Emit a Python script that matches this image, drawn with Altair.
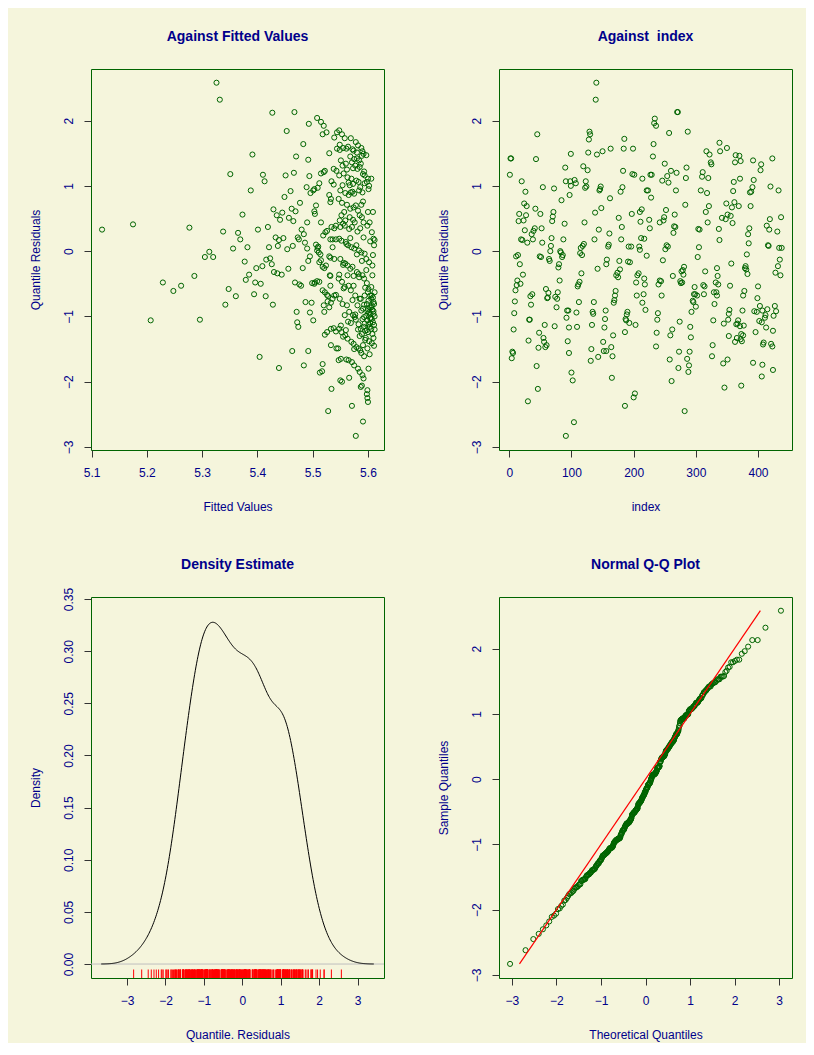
import altair as alt
import pandas as pd
import numpy as np

# ---------------- data ----------------
# (index, quantile residual) pairs of the "Against index" panel
index_pts = [
    (45,1.79),(2,1.42),(3,1.42),(43,1.41),(99,1.49),(1,1.17),(90,1.28),(20,1.07),(91,1.07),(98,1.07),
    (99,1.0),(26,0.91),(54,0.98),(72,0.96),(97,0.86),(84,0.78),(24,0.73),(28,0.69),(42,0.65),(50,0.57),
    (16,0.57),(27,0.55),(15,0.46),(23,0.47),(71,0.6),(70,0.53),(69,0.46),(89,0.42),(25,0.32),(41,0.35),
    (39,0.31),(36,0.26),(52,0.35),(19,0.18),(21,0.17),(38,0.18),(29,0.13),(53,0.13),(68,0.2),(87,0.18),
    (67,0.08),(66,0.0),(82,0.0),(86,-0.06),(85,-0.09),(83,-0.02),(11,-0.08),(14,-0.06),(17,-0.2),(49,-0.08),
    (51,-0.09),(64,-0.12),(65,-0.15),(80,-0.2),(79,-0.25),(22,-0.36),(81,-0.45),(13,-0.45),(18,-0.5),(12,-0.52),
    (10,-0.6),(59,-0.58),(63,-0.64),(61,-0.72),(62,-0.71),(74,-0.7),(77,-0.73),(78,-0.63),(37,-0.66),(34,-0.69),
    (35,-0.82),(76,-0.86),(9,-0.77),(8,-0.95),(93,-0.91),(95,-0.91),(92,-1.02),(32,-1.05),(33,-1.05),(57,-1.13),
    (73,-1.15),(96,-1.17),(7,-1.2),(48,-1.25),(55,-1.33),(56,-1.39),(58,-1.47),(60,-1.44),(31,-1.37),(94,-1.38),
    (47,-1.48),(5,-1.54),(6,-1.56),(4,-1.64),(96,-1.56),(44,-1.76),(100,-1.86),(102,-1.98),(46,-2.11),(30,-2.3),
    (104,-2.62),(91,-2.83),
    (140,2.58),(139,2.32),(129,1.83),(130,1.79),(128,1.71),(185,1.72),(127,1.51),(141,1.48),(150,1.53),(163,1.57),
    (184,1.57),(199,1.57),(119,1.3),(126,1.24),(183,1.23),(198,1.18),(201,1.17),(214,1.11),(105,1.09),(107,1.04),
    (123,1.07),(124,0.99),(122,0.97),(147,0.99),(146,0.95),(145,0.93),(182,0.98),(179,0.91),(162,0.81),(221,0.93),
    (148,0.66),(138,0.59),(121,0.44),(213,0.64),(210,0.6),(197,0.57),(176,0.51),(181,0.37),(211,0.45),(144,0.33),
    (161,0.27),(137,0.18),(180,0.18),(212,0.2),(217,0.19),(120,0.11),(118,0.08),(114,-0.03),(117,-0.06),(115,0.05),
    (159,0.07),(160,0.1),(192,0.07),(196,0.07),(209,0.07),(210,0.02),(221,-0.07),(157,-0.13),(156,-0.2),(142,-0.27),
    (191,-0.16),(194,-0.17),(177,-0.15),(178,-0.28),(174,-0.33),(175,-0.4),(172,-0.37),(208,-0.34),(206,-0.37),(204,-0.48),
    (116,-0.34),(113,-0.47),(111,-0.51),(110,-0.54),(217,-0.42),(218,-0.51),(171,-0.61),(170,-0.68),(169,-0.75),(168,-0.79),
    (205,-0.68),(216,-0.66),(214,-0.79),(219,-0.9),(112,-0.78),(108,-0.94),(109,-1.16),(136,-0.78),(134,-0.93),(135,-0.96),
    (133,-1.13),(155,-0.91),(154,-1.04),(153,-1.17),(190,-0.93),(189,-0.97),(187,-1.04),(188,-1.06),(203,-1.13),(193,-1.1),
    (186,-1.24),(167,-1.29),(151,-1.39),(156,-1.53),(164,-1.47),(166,-1.61),(132,-1.5),(131,-1.68),(143,-1.62),(152,-1.53),
    (165,-1.94),(202,-2.18),(200,-2.24),(186,-2.37),
    (270,2.13),(271,2.13),(234,2.03),(233,1.96),(236,1.92),(257,1.81),(287,1.83),(232,1.64),(231,1.45),(317,1.53),
    (322,1.48),(324,1.36),(325,1.33),(338,1.66),(339,1.53),(250,1.34),(285,1.28),(284,1.12),(227,1.17),(229,1.17),
    (260,1.23),(269,1.2),(254,1.15),(256,1.05),(246,1.08),(311,1.21),(310,1.14),(320,1.12),(223,0.93),(228,0.82),
    (268,0.93),(308,0.93),(318,0.89),(283,0.71),(321,0.69),(316,0.6),(319,0.44),(252,0.63),(249,0.52),(242,0.44),
    (248,0.47),(266,0.56),(225,0.48),(226,0.35),(265,0.38),(267,0.37),(264,0.28),(304,0.34),(306,0.33),(337,0.34),
    (338,0.17),(253,0.09),(255,0.07),(251,0.03),(305,0.06),(303,-0.09),(247,-0.14),(281,-0.24),(279,-0.29),(277,-0.31),
    (280,-0.36),(263,-0.38),(315,-0.31),(242,-0.45),(244,-0.46),(240,-0.51),(275,-0.46),(276,-0.49),(278,-0.48),(334,-0.26),
    (335,-0.38),(332,-0.48),(336,-0.51),(329,-0.63),(333,-0.63),(334,-0.68),(245,-0.68),(298,-0.55),(297,-0.66),(299,-0.66),
    (302,-0.68),(295,-0.76),(296,-0.78),(300,-0.85),(293,-0.93),(312,-0.52),(314,-0.54),(313,-0.66),(330,-0.81),(239,-0.95),
    (238,-1.05),(274,-1.08),(328,-1.06),(291,-1.16),(292,-1.32),(237,-1.25),(262,-1.2),(259,-1.29),(236,-1.46),(327,-1.44),
    (326,-1.61),(273,-1.54),(290,-1.54),(286,-1.65),(289,-1.75),(288,-1.85),(258,-1.66),(272,-1.79),(261,-1.99),(282,-2.45),
    (350,1.58),(364,1.47),(370,1.46),(363,1.36),(372,1.38),(392,1.39),(405,1.33),(404,1.24),(423,1.42),(361,1.06),
    (371,1.11),(360,0.92),(393,1.09),(389,0.91),(387,0.9),(391,0.98),(388,0.69),(420,0.99),(433,0.93),(349,0.73),
    (362,0.75),(369,0.69),(358,0.67),(342,0.51),(351,0.56),(348,0.49),(356,0.54),(359,0.43),(386,0.35),(384,0.26),
    (385,0.12),(419,0.49),(414,0.39),(418,0.33),(431,0.3),(437,0.52),(416,0.09),(417,0.08),(434,0.05),(438,0.05),
    (357,-0.19),(382,-0.05),(380,-0.23),(381,-0.28),(383,-0.35),(379,-0.26),(435,-0.13),(432,-0.23),(428,-0.33),(436,-0.37),
    (355,-0.53),(400,-0.54),(399,-0.72),(403,-0.84),(394,-0.92),(398,-0.93),(407,-0.91),(378,-0.61),(376,-0.68),(375,-0.91),
    (415,-0.89),(412,-0.98),(406,-1.09),(411,-1.02),(402,-1.07),(427,-0.84),(429,-0.92),(425,-0.99),(354,-0.9),(353,-0.96),
    (352,-1.05),(345,-1.11),(368,-1.06),(367,-1.11),(371,-1.15),(365,-1.12),(377,-1.14),(353,-1.3),(373,-1.27),(366,-1.33),
    (363,-1.39),(376,-1.29),(372,-1.35),(374,-1.38),(396,-1.24),(413,-1.17),(424,-1.22),(409,-1.4),(408,-1.43),(421,-1.42),
    (423,-1.46),(344,-1.72),(351,-1.66),(392,-1.71),(407,-1.74),(406,-1.92),(424,-1.82),(346,-2.09),(373,-2.06),
]

# (fitted value, quantile residual) pairs of the "Against Fitted Values" panel
fitted_pts = [
    (5.119,0.33),(5.175,0.41),(5.207,-1.06),(5.229,-0.48),(5.248,-0.61),(5.262,-0.53),(5.277,0.36),(5.286,-0.38),
    (5.296,-1.05),(5.305,-0.09),(5.313,-0.01),(5.32,-0.09),(5.326,2.58),(5.332,2.32),(5.338,0.3),(5.342,-0.82),
    (5.348,-0.58),(5.351,1.18),(5.356,0.04),(5.361,-0.69),(5.365,0.28),(5.369,0.18),(5.373,0.56),(5.377,-0.16),
    (5.379,-0.44),(5.382,0.06),(5.385,-0.36),(5.388,0.93),(5.391,1.48),(5.394,-0.66),(5.396,-0.48),(5.398,-0.26),
    (5.401,0.33),(5.404,-1.62),(5.406,-0.5),(5.409,-0.23),(5.41,1.17),(5.413,1.07),(5.415,-0.69),(5.416,-0.13),
    (5.419,0.37),(5.421,0.06),(5.423,-0.11),(5.426,-0.2),(5.427,2.12),(5.428,-0.82),(5.429,0.64),(5.43,-0.32),
    (5.433,0.21),(5.435,0.55),(5.436,-0.34),(5.437,0.08),(5.439,0.17),(5.439,-1.79),(5.441,0.48),(5.444,-0.36),
    (5.445,0.59),(5.447,0.2),(5.449,0.83),(5.451,1.16),(5.453,1.84),(5.454,0.03),(5.456,-0.27),(5.457,0.51),
    (5.46,0.92),(5.462,0.65),(5.463,-1.53),(5.464,0.08),(5.465,0.46),(5.466,1.2),(5.467,2.13),(5.469,0.61),
    (5.47,1.45),(5.471,-0.93),(5.472,-1.09),(5.474,-1.16),(5.475,0.18),(5.476,-0.51),(5.477,0.74),(5.48,0.33),
    (5.482,-0.26),(5.483,1.64),(5.484,-1.75),(5.486,0.13),(5.487,-0.78),(5.489,0.98),(5.49,0.44),(5.49,0.04),
    (5.492,1.4),(5.492,-1.53),(5.493,1.95),(5.494,1.15),(5.495,-0.94),(5.496,0.89),(5.498,-0.79),(5.499,-0.49),
    (5.468,-0.48),(5.479,-0.53),(5.473,0.21),(5.484,0.26),(5.492,-0.15),(5.495,-0.08),(5.501,-1.06),
    (5.508,2.04),(5.515,1.98),(5.52,1.92),(5.518,1.79),(5.525,1.82),(5.544,1.82),(5.539,1.74),(5.53,1.5),
    (5.544,1.57),(5.522,1.23),(5.515,1.19),(5.52,1.21),(5.538,1.26),(5.543,1.23),(5.534,1.07),(5.538,1.02),
    (5.512,1.04),(5.503,0.95),(5.509,0.97),(5.501,0.93),(5.53,0.86),(5.533,0.8),(5.532,0.75),(5.506,0.7),
    (5.503,0.61),(5.504,0.57),(5.515,0.44),(5.534,0.37),(5.539,0.35),(5.542,0.39),(5.523,0.29),(5.526,0.31),
    (5.519,0.24),(5.532,0.18),(5.536,0.18),(5.542,0.18),(5.506,0.1),(5.51,0.07),(5.509,0.05),(5.508,0.01),
    (5.511,-0.02),(5.514,-0.05),(5.53,-0.08),(5.532,-0.1),(5.536,0.06),(5.539,-0.12),(5.515,-0.14),(5.512,-0.17),
    (5.518,-0.24),(5.521,-0.26),(5.524,-0.22),(5.531,-0.37),(5.532,-0.38),(5.504,-0.48),(5.508,-0.46),(5.512,-0.47),
    (5.503,-0.5),(5.518,-0.6),(5.522,-0.63),(5.526,-0.67),(5.528,-0.69),(5.532,-0.53),(5.527,-0.77),(5.533,-0.79),
    (5.536,-0.73),(5.539,-0.68),(5.542,-0.67),(5.52,-0.83),(5.53,-0.86),(5.521,-0.93),(5.526,-1.24),(5.522,-1.28),
    (5.533,-1.19),(5.538,-1.18),(5.542,-1.23),(5.533,-1.44),(5.543,-1.49),(5.518,-1.73),(5.517,-1.84),(5.513,-1.86),
    (5.534,-2.11),(5.528,-2.45),
    (5.548,1.85),(5.553,1.79),(5.549,1.63),(5.555,1.58),(5.551,1.39),(5.554,1.31),(5.548,1.16),(5.556,1.19),
    (5.55,0.93),(5.547,0.8),(5.553,0.74),(5.549,0.47),(5.555,0.42),(5.548,0.19),(5.552,0.16),(5.55,-0.12),
    (5.556,-0.18),(5.547,-0.42),(5.553,-0.47),(5.549,-0.73),(5.554,-0.81),(5.548,-1.19),(5.552,-1.24),(5.551,-1.65),
    (5.55,-1.98),(5.553,-2.0),(5.549,1.55),(5.554,1.01),(5.552,0.55),(5.55,0.37),(5.555,-0.21),(5.548,-0.36),
    (5.556,-0.57),(5.551,-1.14),(5.555,-1.31),(5.547,-1.67),(5.546,-1.49),
    (5.558,1.73),(5.561,1.57),(5.564,1.6),(5.56,1.34),(5.563,1.13),(5.559,0.89),(5.565,0.86),(5.562,0.71),
    (5.558,0.39),(5.566,0.34),(5.56,0.14),(5.564,0.09),(5.561,0.11),(5.559,-0.19),(5.563,-0.22),(5.565,-0.53),
    (5.558,-0.55),(5.562,-0.83),(5.566,-0.93),(5.559,-1.29),(5.563,-1.34),(5.561,-1.66),(5.565,-1.67),(5.566,-1.94),
    (5.56,-1.21),(5.564,-1.08),(5.557,0.6),(5.562,1.25),(5.565,1.05),(5.559,0.47),(5.563,-0.37),(5.558,-0.98),
    (5.569,1.73),(5.572,1.56),(5.574,1.54),(5.568,1.45),(5.571,1.36),(5.575,1.41),(5.57,1.11),(5.573,1.03),
    (5.567,1.01),(5.572,0.91),(5.575,0.88),(5.569,0.9),(5.574,0.67),(5.568,0.65),(5.571,0.37),(5.576,0.44),
    (5.573,0.48),(5.57,0.06),(5.575,0.04),(5.568,-0.27),(5.572,-0.24),(5.574,-0.53),(5.569,-0.6),(5.573,-0.98),
    (5.576,-1.01),(5.57,-1.39),(5.574,-1.42),(5.571,-1.7),(5.575,-1.75),(5.571,-2.37),(5.567,0.52),(5.572,-0.75),
    (5.569,-1.1),(5.575,-1.5),(5.573,1.27),(5.568,0.2),(5.574,-0.38),
    (5.578,1.67),(5.582,1.62),(5.58,1.51),(5.584,1.39),(5.577,1.31),(5.585,1.29),(5.581,1.26),(5.579,1.08),
    (5.583,1.06),(5.586,0.98),(5.578,0.7),(5.582,0.62),(5.585,0.55),(5.579,0.09),(5.584,0.01),(5.58,-0.32),
    (5.583,-0.35),(5.577,-0.68),(5.585,-0.73),(5.581,-0.83),(5.579,-1.47),(5.583,-1.49),(5.586,-1.52),(5.582,-1.8),
    (5.585,-1.85),(5.578,-2.83),(5.58,-0.05),(5.584,-0.4),(5.578,-1.05),(5.582,-1.2),(5.585,-1.3),(5.581,0.3),
    (5.586,0.35),(5.58,1.42),(5.584,0.93),(5.577,-0.97),(5.583,-1.12),
    (5.588,1.58),(5.59,1.53),(5.592,1.49),(5.589,1.46),(5.587,1.34),(5.593,1.22),(5.591,1.18),(5.594,1.16),
    (5.589,0.52),(5.592,0.44),(5.588,-0.02),(5.594,-0.04),(5.59,-0.37),(5.593,-0.42),(5.591,-0.88),(5.587,-0.73),
    (5.594,-0.68),(5.59,-1.9),(5.592,-1.95),(5.589,-2.06),(5.587,-2.08),(5.591,-2.61),(5.588,-0.91),(5.593,-1.01),
    (5.59,-1.04),(5.594,-1.11),(5.592,-1.16),(5.589,-1.27),(5.595,-1.36),(5.591,-1.44),(5.588,-1.56),(5.593,-1.61),
    (5.59,0.9),(5.594,1.04),(5.588,0.71),(5.592,0.21),(5.589,-0.15),(5.595,-0.56),(5.591,0.76),(5.595,-1.22),
    (5.587,-1.19),(5.593,-0.82),
    (5.597,1.47),(5.6,1.11),(5.598,1.06),(5.601,0.95),(5.599,0.39),(5.603,0.44),(5.597,-0.12),(5.602,-0.17),
    (5.6,-0.63),(5.604,-0.68),(5.598,-2.19),(5.599,-2.13),(5.599,-2.25),(5.6,-2.31),(5.601,-0.76),(5.598,-0.81),
    (5.603,-0.86),(5.6,-0.89),(5.602,-0.94),(5.597,-0.99),(5.604,-1.03),(5.599,-1.06),(5.601,-1.12),(5.603,-1.16),
    (5.598,-1.21),(5.6,-1.24),(5.602,-1.38),(5.599,-1.49),(5.603,-1.58),(5.601,-0.58),(5.598,-0.49),(5.602,1.0),
    (5.6,0.6),(5.604,0.15),(5.597,-0.29),(5.601,-1.8),(5.596,-1.33),(5.603,-0.97),(5.599,-0.92),(5.604,-1.1),
    (5.609,0.6),(5.607,0.29),(5.61,0.19),(5.611,0.09),(5.608,-0.22),(5.606,-0.73),(5.61,-0.78),(5.612,-0.63),
    (5.607,-0.68),(5.609,-0.71),(5.611,-0.81),(5.606,-0.86),(5.608,-0.9),(5.61,-0.96),(5.612,-1.0),(5.607,-1.04),
    (5.609,-1.09),(5.611,-1.13),(5.606,-1.19),(5.608,-1.27),(5.61,-1.33),(5.607,-1.41),(5.611,-1.45),(5.606,1.11),
    (5.612,0.17),(5.609,-0.06),(5.608,-0.37),(5.606,-0.55),(5.61,-0.92),(5.605,-1.02),(5.612,-1.2),(5.607,-0.83),
]

panel_titles = ["Against Fitted Values", "Against \u00a0index", "Density Estimate", "Normal Q-Q Plot"]
res_ticks = [-3, -2, -1, 0, 1, 2]
fit_ticks = [5.1, 5.2, 5.3, 5.4, 5.5, 5.6]
idx_ticks = [0, 100, 200, 300, 400]
dens_ticks = [0.0, 0.05, 0.10, 0.15, 0.20, 0.25, 0.30, 0.35]
qx_ticks = [-3, -2, -1, 0, 1, 2, 3]

# ---------------- styling ----------------
BG = "#F5F5DC"      # beige
BLUE4 = "#00008B"
DG = "#006400"
FONT = "Liberation Sans"
W, H = 293, 381

fit_df = pd.DataFrame(fitted_pts, columns=["fitted", "res"])
idx_df = pd.DataFrame(index_pts, columns=["index", "res"])

res = idx_df["res"].to_numpy()
n = len(res)
q75, q25 = np.percentile(res, [75, 25])
bw = 0.9 * min(res.std(ddof=1), (q75 - q25) / 1.34) * n ** -0.2
lo, hi = float(res.min() - 3 * bw), float(res.max() + 3 * bw)


def xax(title, values, fmt=None):
    kw = dict(title=title, values=values, domain=False, grid=False, tickSize=7,
              tickColor="#333333", tickWidth=1, labelColor=BLUE4, labelFont=FONT,
              labelFontSize=12, labelPadding=10, labelFlush=False, labelOverlap=False,
              titleColor=BLUE4, titleFont=FONT, titleFontSize=12, titleFontWeight="normal",
              titleY=56, titleBaseline="middle")
    if fmt:
        kw["format"] = fmt
    return alt.Axis(**kw)


def yax(title, values, fmt=None):
    kw = dict(title=title, values=values, domain=False, grid=False, tickSize=7,
              tickColor="#333333", tickWidth=1, labelColor=BLUE4, labelFont=FONT,
              labelFontSize=12, labelPadding=9, labelAngle=270, labelAlign="center",
              labelBaseline="bottom", labelFlush=False, labelOverlap=False,
              titleColor=BLUE4, titleFont=FONT, titleFontSize=12, titleFontWeight="normal",
              titleX=-56, titleY=H / 2, titleAngle=270, titleBaseline="middle", titleAlign="center")
    if fmt:
        kw["format"] = fmt
    return alt.Axis(**kw)


def title_mark(text):
    return alt.Chart(pd.DataFrame({"t": [text]})).mark_text(
        font=FONT, fontSize=14, fontWeight="bold", color=BLUE4,
        align="center", baseline="middle",
    ).encode(text="t:N", x=alt.value(W / 2), y=alt.value(-32.5))


pt = dict(shape="circle", filled=False, size=26, strokeWidth=1, color=DG, opacity=1)

# panel 1: against fitted values
p1_pts = alt.Chart(fit_df).mark_point(**pt).encode(
    x=alt.X("fitted:Q", scale=alt.Scale(domain=[5.099, 5.629], nice=False, zero=False),
            axis=xax("Fitted Values", fit_ticks, ".1f")),
    y=alt.Y("res:Q", scale=alt.Scale(domain=[-3.046, 2.79], nice=False, zero=False),
            axis=yax("Quantile Residuals", res_ticks)),
)
p1 = alt.layer(p1_pts, title_mark(panel_titles[0])).properties(width=W, height=H)

# panel 2: against index
p2_pts = alt.Chart(idx_df).mark_point(**pt).encode(
    x=alt.X("index:Q", scale=alt.Scale(domain=[-16.5, 454.6], nice=False, zero=False),
            axis=xax("index", idx_ticks)),
    y=alt.Y("res:Q", scale=alt.Scale(domain=[-3.046, 2.79], nice=False, zero=False),
            axis=yax("Quantile Residuals", res_ticks)),
)
p2 = alt.layer(p2_pts, title_mark(panel_titles[1])).properties(width=W, height=H)

# panel 3: density estimate
dscale_x = alt.Scale(domain=[-3.94, 3.69], nice=False, zero=False)
dscale_y = alt.Scale(domain=[-0.0134, 0.352], nice=False, zero=False)
dx = alt.X("value:Q", scale=dscale_x, axis=xax("Quantile. Residuals", qx_ticks))
dy = alt.Y("density:Q", scale=dscale_y, axis=yax("Density", dens_ticks, ".2f"))

zero_line = alt.Chart(pd.DataFrame({"z": [0.0]})).mark_rule(color="#BEBEBE", strokeWidth=1).encode(
    y=alt.Y("z:Q", scale=dscale_y, axis=yax("Density", dens_ticks, ".2f")),
    x=alt.value(0), x2=alt.value(W),
)
dens_line = alt.Chart(idx_df).transform_density(
    "res", as_=["value", "density"], bandwidth=bw, extent=[lo, hi], steps=400
).mark_line(color="black", strokeWidth=1).encode(x=dx, y=dy)
rug = alt.Chart(idx_df).mark_rule(color="#FF0000", strokeWidth=1).encode(
    x=alt.X("res:Q", scale=dscale_x, axis=xax("Quantile. Residuals", qx_ticks)),
    y=alt.value(H), y2=alt.value(H - 8.5),
)
p3 = alt.layer(zero_line, dens_line, rug, title_mark(panel_titles[2])).properties(width=W, height=H)

# panel 4: normal Q-Q plot
qx = alt.Scale(domain=[-3.29, 3.29], nice=False, zero=False)
qy = alt.Scale(domain=[-3.046, 2.79], nice=False, zero=False)
qq_pts = alt.Chart(idx_df).transform_window(
    rank="row_number()", sort=[alt.SortField("res", order="ascending")]
).transform_joinaggregate(n="count()").transform_calculate(
    theo="quantileNormal((datum.rank - 0.5) / datum.n)"
).mark_point(**pt).encode(
    x=alt.X("theo:Q", scale=qx, axis=xax("Theoretical Quantiles", qx_ticks)),
    y=alt.Y("res:Q", scale=qy, axis=yax("Sample Quantiles", res_ticks)),
)
qq_line = alt.Chart(idx_df).transform_aggregate(
    lo="min(res)", hi="max(res)"
).mark_rule(color="#FF0000", strokeWidth=1.2).encode(
    x=alt.X("lo:Q", scale=qx, axis=xax("Theoretical Quantiles", qx_ticks)),
    y=alt.Y("lo:Q", scale=qy, axis=yax("Sample Quantiles", res_ticks)),
    x2="hi:Q", y2="hi:Q",
)
p4 = alt.layer(qq_pts, qq_line, title_mark(panel_titles[3])).properties(width=W, height=H)

chart = alt.concat(p1, p2, p3, p4, columns=2, spacing={"row": 147, "column": 115},
                   bounds="flush").properties(
    background=BG,
    autosize=alt.AutoSizeParams(type="none"),
    padding={"left": 83, "top": 61, "right": 715, "bottom": 974},
).configure_view(stroke=DG, strokeWidth=1, fill=BG)

chart.save("out.html", embed_options={"renderer": "svg", "actions": False})
